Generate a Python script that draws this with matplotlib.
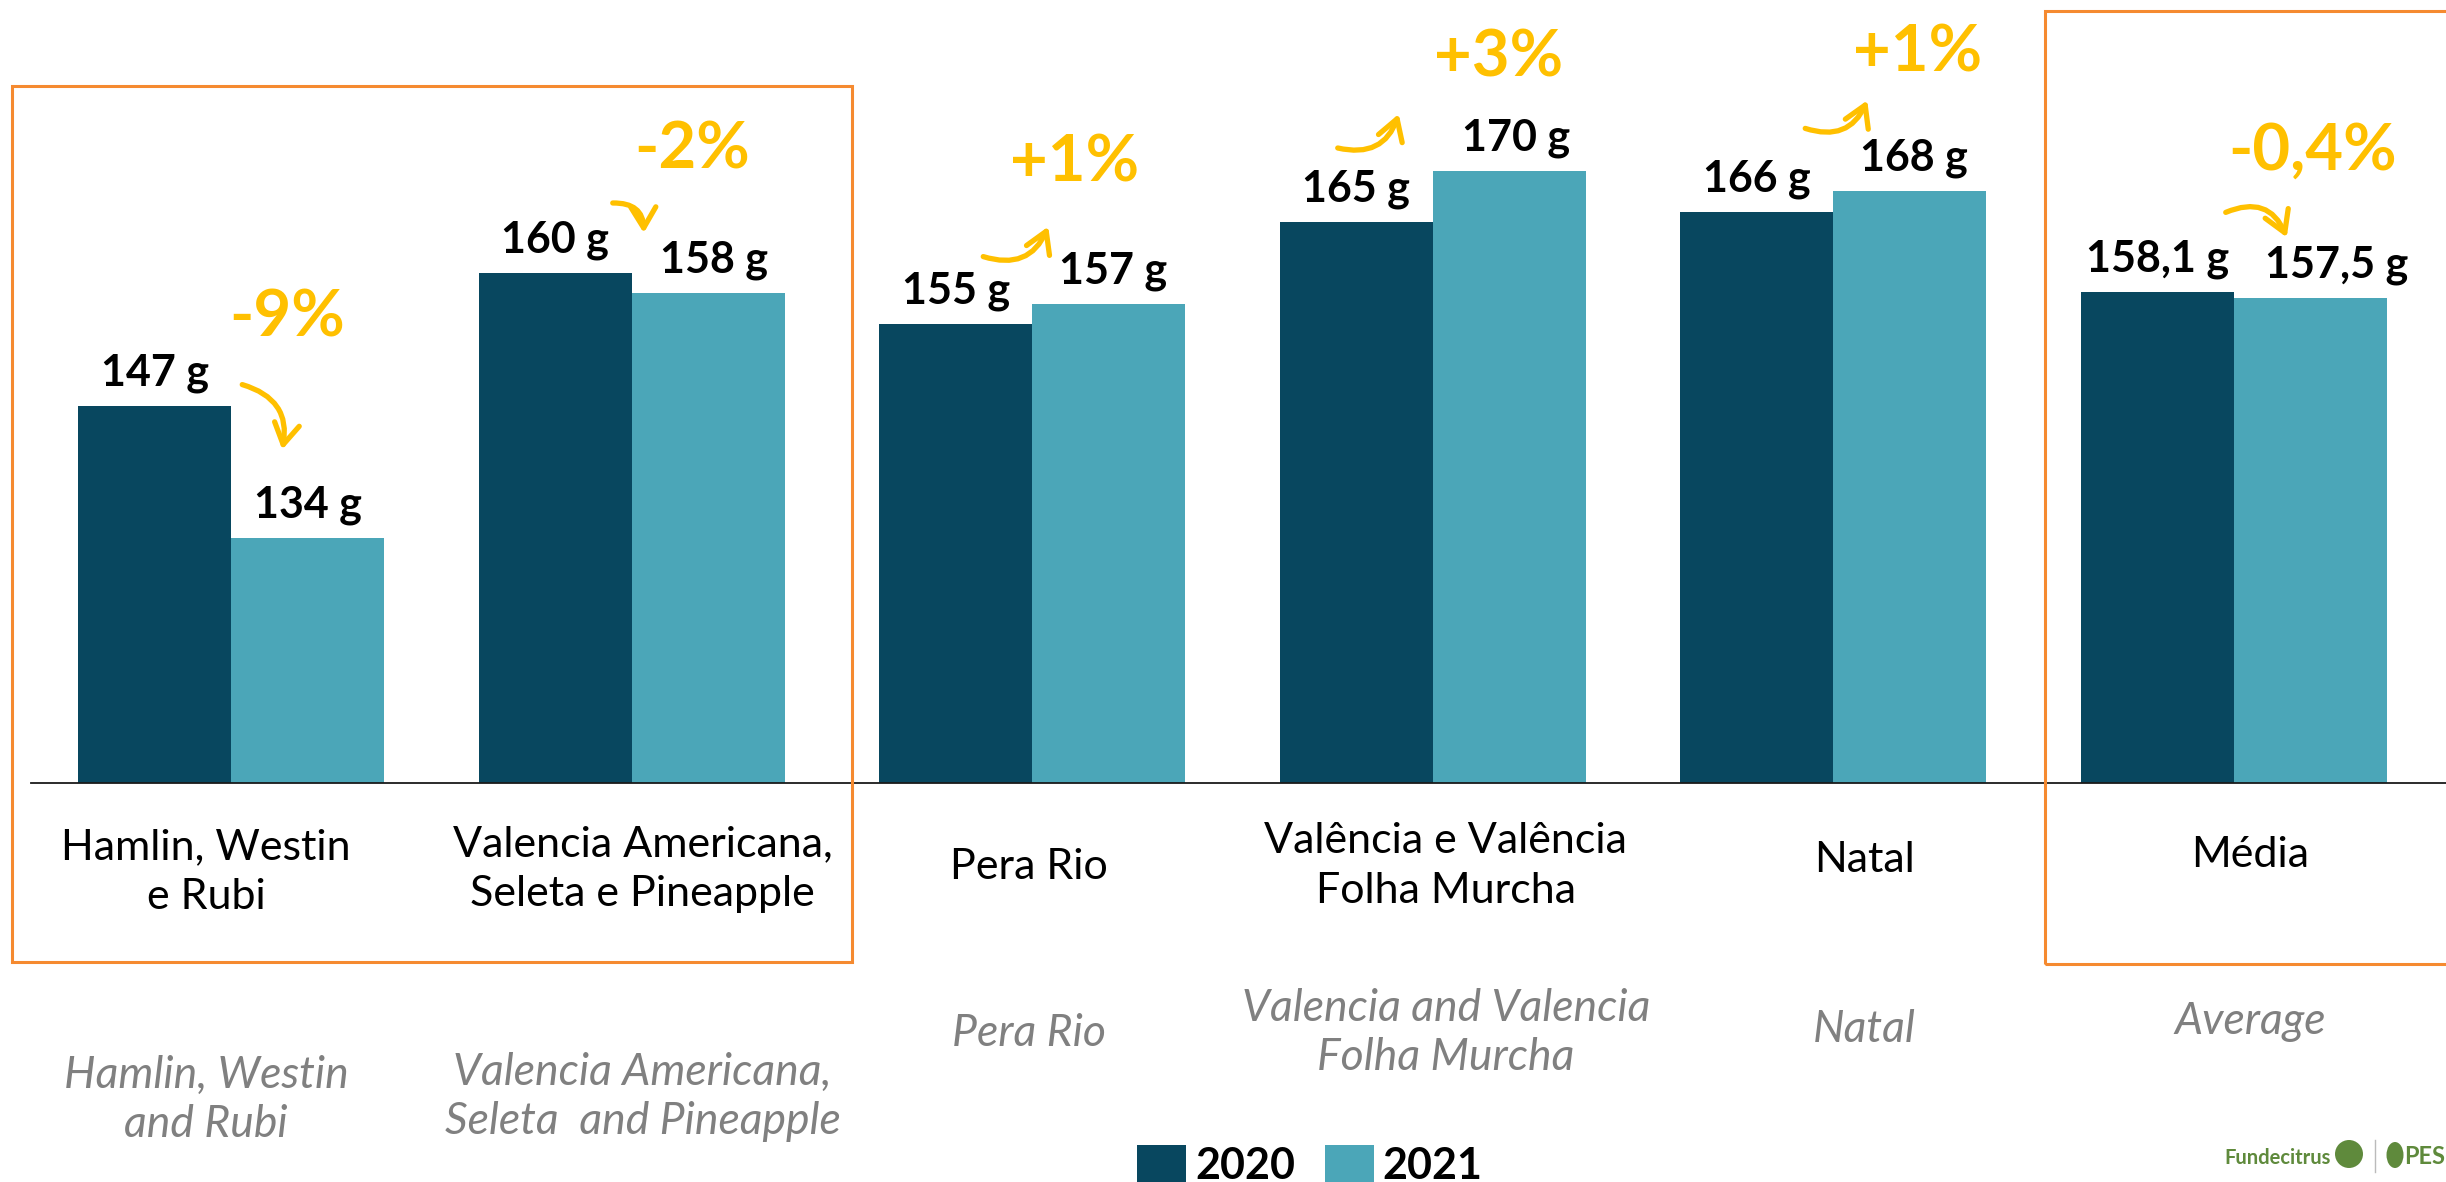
import matplotlib
matplotlib.use("Agg")
import matplotlib.pyplot as plt
from matplotlib.patches import Rectangle, Ellipse
from matplotlib.transforms import ScaledTranslation, blended_transform_factory
import numpy as np

# ---------------- data ----------------
categories_pt = ["Hamlin, Westin\ne Rubi", "Valencia Americana,\nSeleta e Pineapple", "Pera Rio",
                 "Valência e Valência\nFolha Murcha", "Natal", "Média"]
categories_en = ["Hamlin, Westin\nand Rubi", "Valencia Americana,\nSeleta  and Pineapple", "Pera Rio",
                 "Valencia and Valencia\nFolha Murcha", "Natal", "Average"]
values_2020 = [147, 160, 155, 165, 166, 158.1]
values_2021 = [134, 158, 157, 170, 168, 157.5]
labels_2020 = ["147 g", "160 g", "155 g", "165 g", "166 g", "158,1 g"]
labels_2021 = ["134 g", "158 g", "157 g", "170 g", "168 g", "157,5 g"]
changes = ["-9%", "-2%", "+1%", "+3%", "+1%", "-0,4%"]
series = ["2020", "2021"]

# ---------------- style / layout ----------------
W, H = 2446, 1182
DARK = "#08475F"
LIGHT = "#4BA6B8"
GOLD = "#FFC000"
ORANGE = "#F58A30"
GRAY = "#808080"
GREEN = "#5F8A3C"
FONT = ["Lato", "DejaVu Sans"]
PX = 0.72  # px -> pt at dpi 100

# percent label offsets (px) relative to (group centre, top of taller bar)
pct_off = [(56, 88), (60, 123), (42, 141), (66, 113), (84, 138), (79, 141)]
# arrows: start / end offsets (px) relative to same anchor, + curvature
arr_start = [(11, 21), (-19, 70), (-49, 47), (-95, 23), (-28, 63), (-8, 80)]
arr_end = [(51, -44), (12, 40), (16, 77), (-34, 57), (34, 91), (53, 55)]
arr_rad = [-0.45, -0.5, 0.45, 0.45, 0.45, -0.5]
lbl_dx_2021 = [0, 6, 4, 7, 4, 26]
cat_dx = [-25, 11, -3, 13, 31, 16]
pt_y = [872, 869, 867, 866, 860, 855]
en_y = [1100, 1097, 1034, 1033, 1030, 1022]

fig = plt.figure(figsize=(W / 100, H / 100), dpi=100)
fig.patch.set_facecolor("white")

base_px = 783
ax = fig.add_axes([31 / W, 1 - base_px / H, 1 - 31 / W, base_px / H])
ymin = 110
ax.set_ylim(ymin, ymin + base_px / 10.2)
ax.set_xlim(-0.5, 5.53)

x = np.arange(len(categories_pt))
w = 0.382
b1 = ax.bar(x - w / 2, values_2020, w, color=DARK, label=series[0], zorder=2)
b2 = ax.bar(x + w / 2, values_2021, w, color=LIGHT, label=series[1], zorder=2)

for s in ["top", "right", "left"]:
    ax.spines[s].set_visible(False)
ax.spines["bottom"].set_color("#1a1a1a")
ax.spines["bottom"].set_linewidth(1.3)
ax.set_xticks([])
ax.set_yticks([])
ax.patch.set_alpha(0)


def off(dx_px, dy_px):
    return ax.transData + ScaledTranslation(dx_px / 100, dy_px / 100, fig.dpi_scale_trans)


# value labels
for i in range(len(x)):
    ax.annotate(labels_2020[i], xy=(x[i] - w / 2, values_2020[i]), xytext=(0, 33 * PX),
                textcoords="offset points", ha="center", va="center",
                fontsize=31, fontweight="bold", family=FONT, color="black")
    ax.annotate(labels_2021[i], xy=(x[i] + w / 2, values_2021[i]), xytext=(lbl_dx_2021[i] * PX, 33 * PX),
                textcoords="offset points", ha="center", va="center",
                fontsize=31, fontweight="bold", family=FONT, color="black")

# percent labels and arrows
for i in range(len(x)):
    top = max(values_2020[i], values_2021[i])
    dx, dy = pct_off[i]
    ax.annotate(changes[i], xy=(x[i], top), xytext=(dx * PX, dy * PX),
                textcoords="offset points", ha="center", va="center",
                fontsize=47, fontweight="bold", family=FONT, color=GOLD)
    sx, sy = arr_start[i]
    ex, ey = arr_end[i]
    ax.annotate("", xy=(x[i], top), xycoords=off(ex, ey),
                xytext=(x[i], top), textcoords=off(sx, sy),
                arrowprops=dict(arrowstyle="->,head_length=0.75,head_width=0.45",
                                connectionstyle=f"arc3,rad={arr_rad[i]}",
                                color=GOLD, lw=3.8, shrinkA=0, shrinkB=0,
                                mutation_scale=20, capstyle="round", joinstyle="round"))

# category labels
for i in range(len(x)):
    tr = blended_transform_factory(off(cat_dx[i], 0), fig.transFigure)
    ax.text(x[i], 1 - pt_y[i] / H, categories_pt[i], transform=tr, ha="center", va="center",
            fontsize=31, family=FONT, color="black", linespacing=1.38, clip_on=False)
    ax.text(x[i], 1 - en_y[i] / H, categories_en[i], transform=tr, ha="center", va="center",
            fontsize=32, family=FONT, style="italic", color=GRAY, linespacing=1.24, clip_on=False)

# orange highlight boxes
for (x0, y0, x1, y1) in [(12, 86, 852, 962), (2045, 11, 2470, 964)]:
    fig.add_artist(Rectangle((x0 / W, 1 - y1 / H), (x1 - x0) / W, (y1 - y0) / H,
                             transform=fig.transFigure, fill=False, edgecolor=ORANGE,
                             lw=2.2, clip_on=False))

# legend (manual)
for (sx0, tx0), col, name in zip([(1137, 1195), (1325, 1382)], [DARK, LIGHT], series):
    fig.add_artist(Rectangle((sx0 / W, 1 - 1195 / H), 49 / W, 50 / H, transform=fig.transFigure,
                             facecolor=col, edgecolor="none"))
    fig.text(tx0 / W, 1 - 1179 / H, name, ha="left", va="baseline", fontsize=31,
             fontweight="bold", family=FONT, color="black")

# logo
fig.text(2224 / W, 1 - 1158 / H, "Fundecitrus", ha="left", va="center", fontsize=14.5,
         fontweight="bold", family=FONT, color=GREEN)
fig.add_artist(Ellipse((2349 / W, 1 - 1154 / H), 28 / W, 28 / H, transform=fig.transFigure,
                       facecolor=GREEN, edgecolor="none"))
fig.add_artist(plt.Line2D([2375 / W, 2375 / W], [1 - 1140 / H, 1 - 1172 / H],
                          transform=fig.transFigure, color="#BBBBBB", lw=1))
fig.add_artist(Ellipse((2395 / W, 1 - 1155 / H), 17 / W, 26 / H, transform=fig.transFigure,
                       facecolor=GREEN, edgecolor="none"))
fig.text(2404 / W, 1 - 1156 / H, "PES", ha="left", va="center", fontsize=17,
         fontweight="bold", family=FONT, color=GREEN)

fig.savefig("out.png", dpi=100)
